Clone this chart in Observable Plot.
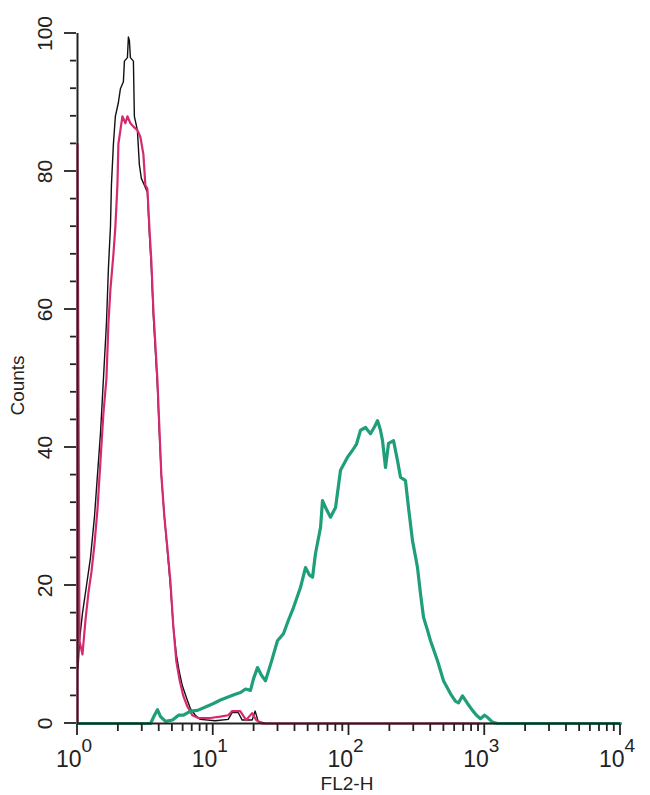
<!DOCTYPE html>
<html>
<head>
<meta charset="utf-8">
<script src="https://cdn.jsdelivr.net/npm/d3@7"></script>
<script src="https://cdn.jsdelivr.net/npm/@observablehq/plot@0.6"></script>
<style>
  html, body { margin: 0; padding: 0; background: #fff; }
</style>
</head>
<body>
<div id="chart"></div>
<script>
// FL2-H channel values and counts
const blackX = [1.01, 1.034, 1.088, 1.165, 1.246, 1.334, 1.403, 1.476, 1.553, 1.634, 1.69, 1.749, 1.778, 1.839, 1.901, 2.001, 2.071, 2.178, 2.216, 2.332, 2.371, 2.411, 2.453, 2.581, 2.624, 2.761, 2.856, 2.954, 3.109, 3.271, 3.384, 3.5, 3.621, 3.746, 3.875, 4.008, 4.146, 4.363, 4.591, 4.83, 5.082, 5.347, 5.623, 5.916, 6.33, 6.77, 7.38, 8.02, 10.35, 12.89, 13.79, 15.27, 16.34, 19.35, 20.36, 21.42, 24.5, 10000];
const blackY = [8, 12, 16, 20, 24, 30, 36, 42, 50, 58, 66, 72, 78, 84, 88, 90, 92, 93, 96, 96.5, 99.5, 99, 96.5, 96, 88, 86, 81, 79, 78, 77, 71, 66, 59, 54, 49, 42, 36, 30, 25, 20, 14, 10, 7.5, 5.5, 3.8, 2.2, 1.2, 0.6, 0.4, 0.6, 1.6, 1.6, 0.5, 0.5, 1.8, 0.3, 0, 0];

const pinkX = [1, 1, 1.034, 1.088, 1.145, 1.205, 1.268, 1.334, 1.403, 1.476, 1.553, 1.634, 1.69, 1.749, 1.839, 1.901, 1.968, 2.001, 2.071, 2.142, 2.254, 2.332, 2.453, 2.581, 2.761, 2.906, 3.057, 3.162, 3.271, 3.384, 3.5, 3.621, 3.746, 3.875, 4.008, 4.146, 4.363, 4.591, 4.83, 5.082, 5.347, 5.623, 6.016, 6.437, 7.01, 7.757, 9.5, 11.25, 12.89, 13.79, 15.8, 17.49, 19.35, 20.7, 22.92, 43.6, 237, 919];
const pinkY = [0, 84, 12, 10, 15, 19, 22, 26, 31, 38, 45, 50, 58, 63, 68, 72, 78, 84, 86, 88, 87, 88, 87, 86.5, 86, 85, 82.5, 78, 77.5, 72, 67, 60, 55, 50, 43, 36, 30, 25.5, 20.7, 14, 9, 6.5, 4, 2.5, 1.2, 0.8, 0.8, 1, 1.2, 1.8, 1.8, 0.5, 1.5, 0.5, 0, 0, 0, 0];

const tealX = [1, 3.45, 3.69, 3.88, 4.09, 4.45, 5.01, 5.55, 6.04, 6.8, 7.66, 8.77, 10.04, 11.3, 12.74, 14.35, 15.88, 17.29, 18.81, 19.81, 21.18, 22.65, 24.26, 26.85, 29.72, 32.9, 35.83, 39.0, 43.9, 47.8, 51.2, 53.9, 56.6, 61.7, 63.8, 68.3, 73.1, 79.6, 86.6, 97.5, 106.2, 113.6, 121.6, 132.4, 144.0, 154.2, 162.2, 170.6, 176.6, 185.8, 195.5, 212.8, 227.7, 239.5, 260.6, 274.3, 293.6, 319.6, 336.4, 354.0, 378.8, 398.5, 448.7, 496.8, 559.6, 609.4, 641.2, 685.5, 746.4, 812.2, 869.6, 930.2, 995.4, 1047, 1140, 1242, 10000];
const tealY = [0, 0, 1.2, 2, 1, 0.3, 0.5, 1.2, 1.2, 1.8, 1.9, 2.4, 2.9, 3.4, 3.8, 4.2, 4.5, 5, 4.8, 6.5, 8.1, 7, 6.2, 9, 12, 13, 15, 16.8, 19.7, 22.6, 21.5, 21.2, 24.6, 28.4, 32.3, 31, 29.9, 31.3, 36.7, 38.6, 39.6, 40.5, 42.5, 42.9, 42, 43, 43.9, 42.5, 41, 37.1, 40.6, 41, 38.1, 35.7, 35.2, 31.3, 26.5, 22.6, 18.8, 15.4, 13.5, 12, 9.1, 6.2, 4.3, 3.2, 3, 4, 2.9, 1.9, 1.2, 0.7, 1.2, 0.9, 0.2, 0, 0];

const xMajor = [1, 10, 100, 1000, 10000];
const xExponents = ["0", "1", "2", "3", "4"];
const yMajor = [0, 20, 40, 60, 80, 100];
const yMinor = [4, 8, 12, 16, 24, 28, 32, 36, 44, 48, 52, 56, 64, 68, 72, 76, 84, 88, 92, 96];
const xMinor = [2, 3, 4, 5, 6, 7, 8, 9, 20, 30, 40, 50, 60, 70, 80, 90, 200, 300, 400, 500, 600, 700, 800, 900, 2000, 3000, 4000, 5000, 6000, 7000, 8000, 9000];
const xTitle = "FL2-H";
const yTitle = "Counts";

const toRows = (xs, ys) => xs.map((x, i) => ({x, y: ys[i]}));
const black = toRows(blackX, blackY);
const pink = toRows(pinkX, pinkY);
const teal = toRows(tealX, tealY);

const W = 650, H = 795, ML = 77, MR = 30, MT = 33, MB = 72;
const font = "Liberation Sans, Arial, sans-serif";
const ink = "#222";

const chart = Plot.plot({
  width: W,
  height: H,
  marginLeft: ML,
  marginRight: MR,
  marginTop: MT,
  marginBottom: MB,
  x: {type: "log", domain: [1, 10000], axis: null},
  y: {domain: [0, 100], axis: null},
  marks: [
    Plot.line(black, {x: "x", y: "y", stroke: "#111111", strokeWidth: 1.4}),
    Plot.line(pink, {x: "x", y: "y", stroke: "#d62a6e", strokeWidth: 2.2}),
    Plot.line(teal, {x: "x", y: "y", stroke: "#1f9e7a", strokeWidth: 3.2}),
    Plot.ruleX([1], {x: d => d, y1: 0, y2: 100, stroke: ink, strokeWidth: 2}),
    Plot.ruleY([0], {y: d => d, stroke: ink, strokeWidth: 2}),
    Plot.text(yMajor, {y: d => d, text: d => String(d), frameAnchor: "left", dx: -32, rotate: -90, textAnchor: "middle", lineAnchor: "middle", fontSize: 21, fontFamily: font, fill: ink}),
    Plot.text(xMajor, {x: d => d, text: () => "10", frameAnchor: "bottom", dy: 36, dx: 4, textAnchor: "end", lineAnchor: "middle", fontSize: 23, fontFamily: font, fill: ink}),
    Plot.text(xMajor, {x: d => d, text: (d, i) => xExponents[i], frameAnchor: "bottom", dy: 22, dx: 4, textAnchor: "start", lineAnchor: "middle", fontSize: 19, fontFamily: font, fill: ink}),
    Plot.text([yTitle], {frameAnchor: "left", dx: -60, dy: 7, rotate: -90, textAnchor: "middle", lineAnchor: "middle", fontSize: 19, fontFamily: font, fill: ink}),
    Plot.text([xTitle], {frameAnchor: "bottom", dx: -2, dy: 60, textAnchor: "middle", lineAnchor: "middle", fontSize: 19, fontFamily: font, fill: ink})
  ]
});
document.getElementById("chart").appendChild(chart);

// Axis ticks, positioned with the plot's own x and y scales
const sx = chart.scale("x"), sy = chart.scale("y");
const x0 = sx.apply(1), y0 = sy.apply(0);
const tickLayer = d3.select(chart).append("g").attr("stroke", ink).attr("stroke-width", 1.8).attr("fill", "none");
const yTicks = [...yMinor.map(v => [v, 7]), ...yMajor.map(v => [v, 13])];
tickLayer.selectAll("line.yt").data(yTicks).enter().append("line")
  .attr("x1", x0 - 1).attr("x2", d => x0 - d[1])
  .attr("y1", d => sy.apply(d[0])).attr("y2", d => sy.apply(d[0]));
const xTicks = [...xMinor.map(v => [v, 8]), ...xMajor.map(v => [v, 12])];
tickLayer.selectAll("line.xt").data(xTicks).enter().append("line")
  .attr("x1", d => sx.apply(d[0])).attr("x2", d => sx.apply(d[0]))
  .attr("y1", y0 + 1).attr("y2", d => y0 + d[1]);
</script>
</body>
</html>
